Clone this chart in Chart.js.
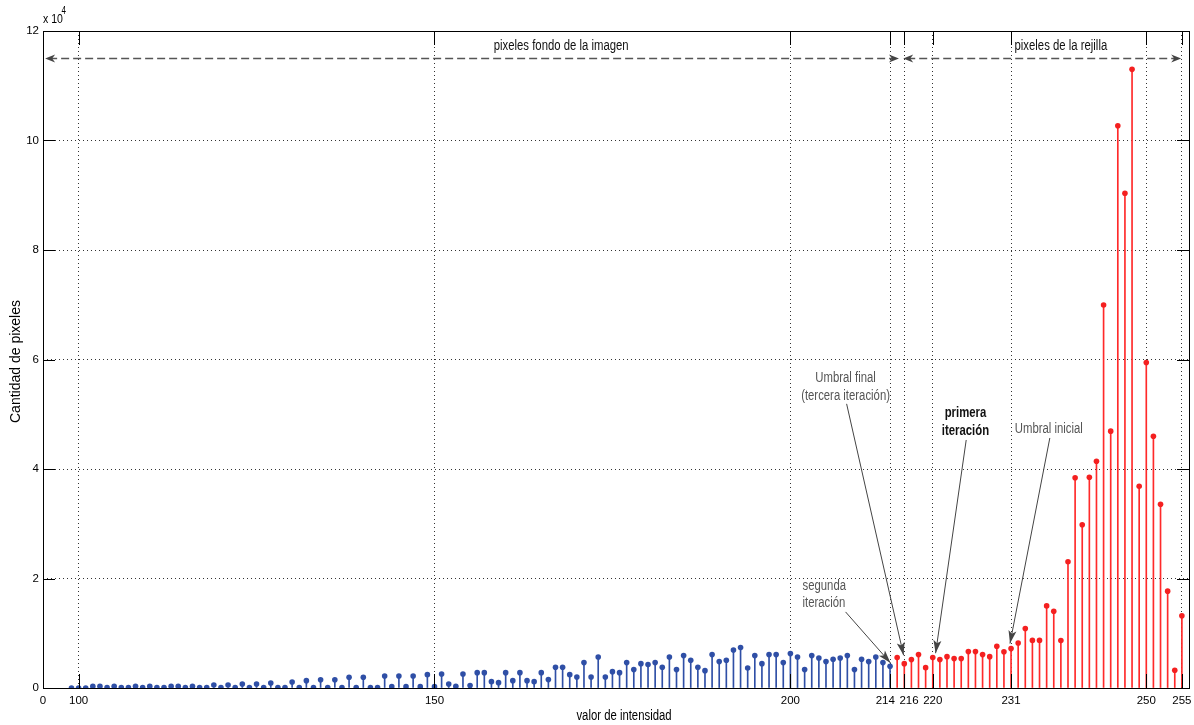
<!DOCTYPE html>
<html><head><meta charset="utf-8">
<script src="https://cdn.jsdelivr.net/npm/chart.js@4.4.1/dist/chart.umd.min.js"></script>
<style>html,body{margin:0;padding:0;background:#fff;}#wrap{width:1194px;height:725px;}</style>
</head><body><div id="wrap"><canvas id="c" width="1194" height="725"></canvas></div>
<script>
// ---- data ----
const bgIntensity = [];
for (let v = 99; v <= 214; v++) bgIntensity.push(v);
const bgCounts = [
  0, 0, 0, 300, 300, 100, 300, 100, 100, 300,      // 99-108
  100, 300, 100, 100, 300, 300, 100, 300, 100, 100, // 109-118
  550, 100, 550, 100, 730, 100, 730, 100, 900, 100, // 119-128
  100, 1100, 100, 1340, 100, 1520, 100, 1520, 100, 1950, // 129-138
  100, 1950, 100, 100, 2200, 250, 2200, 250, 2200, 250,  // 139-148
  2440, 250, 2560, 730, 300, 2560, 450, 2800, 2800, 1160, // 149-158
  980, 2800, 1340, 2800, 1340, 1160, 2800, 1530, 3780, 3780, // 159-168
  2440, 2010, 4640, 2010, 5670, 2010, 2990, 2800, 4640, 3360, // 169-178
  4450, 4270, 4640, 3780, 5670, 3360, 5920, 5060, 3780, 3170, // 179-188
  6100, 4820, 5060, 6950, 7380, 3660, 5920, 4450, 6100, 6100, // 189-198
  4640, 6280, 5670, 3360, 5920, 5490, 4820, 5250, 5490, 5920, // 199-208
  3360, 5250, 4820, 5670, 4640, 3970                          // 209-214
];
const gridIntensity = [];
for (let v = 215; v <= 255; v++) gridIntensity.push(v);
const gridCounts = [
  5550, 4450, 5190, 6100, 3720, 5550, 5190, 5730, 5370, 5370, // 215-224
  6650, 6650, 6100, 5730, 7630, 6620, 7200, 8230, 10860, 8690, // 225-234
  8690, 15000, 14030, 8660, 23060, 38400, 29830, 38490, 41420, 69950, // 235-244
  46910, 102700, 90360, 113000, 36840, 59450, 45990, 33550, 17690, 3230, // 245-254
  13180 // 255
];
const xTickValues = [95, 100, 150, 200, 214, 216, 220, 231, 250, 255];
const xTickLabels = ['0', '100', '150', '200', '214   ', '   216', '220', '231', '250', '255'];
const yTickValues = [0, 20000, 40000, 60000, 80000, 100000, 120000];

// ---- styling / annotations ----
const FONT = "'Liberation Sans', Arial, sans-serif";
const NARROW = 0.81;
const BLUE = '#2f4fa6';
const RED = '#ff2a2a';

const regionArrows = [
  {from: 95.3, to: 215.25, y: 115000, label: 'pixeles fondo de la imagen', lx: 167.8},
  {from: 215.85, to: 254.9, y: 115000, label: 'pixeles de la rejilla', lx: 238.0}
];
const notes = [
  {lines: ['Umbral final', '(tercera iteración)'], x: 207.75, y: [56650, 53360], align: 'center', color: '#555', bold: false,
   start: [207.9, 51900], tip: [215.9, 5980]},
  {lines: ['primera', 'iteración'], x: 224.6, y: [50250, 46960], align: 'center', color: '#111', bold: true,
   start: [224.7, 45300], tip: [220.4, 6350]},
  {lines: ['Umbral inicial'], x: 236.3, y: [47300], align: 'center', color: '#555', bold: false,
   start: [236.45, 45670], tip: [230.85, 8120]},
  {lines: ['segunda', 'iteración'], x: 201.7, y: [18660, 15490], align: 'left', color: '#555', bold: false,
   start: [207.75, 13900], tip: [214.07, 4570]}
];

function arrowHead(ctx, fx, fy, tx, ty, len, half, notch, color) {
  const a = Math.atan2(ty - fy, tx - fx);
  const cos = Math.cos(a), sin = Math.sin(a);
  const bx = tx - len * cos, by = ty - len * sin;
  const nx = tx - (len - notch) * cos, ny = ty - (len - notch) * sin;
  ctx.beginPath();
  ctx.moveTo(tx, ty);
  ctx.lineTo(bx - half * sin, by + half * cos);
  ctx.lineTo(nx, ny);
  ctx.lineTo(bx + half * sin, by - half * cos);
  ctx.closePath();
  ctx.fillStyle = color;
  ctx.fill();
}
function narrowText(ctx, text, x, y, size, align, bold, color) {
  ctx.save();
  ctx.font = (bold ? 'bold ' : '') + size + 'px ' + FONT;
  ctx.fillStyle = color;
  ctx.textAlign = align;
  ctx.textBaseline = 'middle';
  ctx.translate(x, y);
  ctx.scale(NARROW, 1);
  ctx.fillText(text, 0, 0);
  ctx.restore();
}

const decor = {
  id: 'decor',
  afterDatasetsDraw(chart) {
    const ctx = chart.ctx;
    const xs = chart.scales.x, ys = chart.scales.y;
    const ca = chart.chartArea;
    ctx.save();
    // box
    ctx.strokeStyle = '#000';
    ctx.lineWidth = 1;
    ctx.setLineDash([]);
    ctx.strokeRect(Math.round(ca.left) + 0.5, Math.round(ca.top) + 0.5,
      Math.round(ca.right - ca.left), Math.round(ca.bottom - ca.top));
    // inside ticks
    ctx.beginPath();
    xs.ticks.forEach(t => {
      const px = Math.round(xs.getPixelForValue(t.value)) + 0.5;
      ctx.moveTo(px, ca.bottom); ctx.lineTo(px, ca.bottom - 14);
      ctx.moveTo(px, ca.top); ctx.lineTo(px, ca.top + 14);
    });
    ys.ticks.forEach(t => {
      const py = Math.round(ys.getPixelForValue(t.value)) + 0.5;
      ctx.moveTo(ca.left, py); ctx.lineTo(ca.left + 12, py);
      ctx.moveTo(ca.right, py); ctx.lineTo(ca.right - 12, py);
    });
    ctx.stroke();
    // exponent
    narrowText(ctx, 'x 10', ca.left, 19, 13, 'left', false, '#000');
    narrowText(ctx, '4', ca.left + 18.5, 11, 10, 'left', false, '#000');
    // axis titles
    narrowText(ctx, 'valor de intensidad', 624, 716, 14, 'center', false, '#000');
    ctx.save();
    ctx.translate(16, (ca.top + ca.bottom) / 2 + 2);
    ctx.rotate(-Math.PI / 2);
    ctx.font = '14px ' + FONT;
    ctx.fillStyle = '#000';
    ctx.textAlign = 'center';
    ctx.textBaseline = 'middle';
    ctx.fillText('Cantidad de pixeles', 0, 0);
    ctx.restore();
    // region arrows
    regionArrows.forEach(r => {
      const x1 = xs.getPixelForValue(r.from), x2 = xs.getPixelForValue(r.to);
      const py = Math.round(ys.getPixelForValue(r.y)) + 0.5;
      ctx.strokeStyle = '#555';
      ctx.lineWidth = 1.5;
      ctx.setLineDash([8, 4]);
      ctx.beginPath(); ctx.moveTo(x1 + 4, py); ctx.lineTo(x2 - 4, py); ctx.stroke();
      ctx.setLineDash([]);
      arrowHead(ctx, x2 - 20, py, x2, py, 10, 4, 3, '#444');
      arrowHead(ctx, x1 + 20, py, x1, py, 10, 4, 3, '#444');
      narrowText(ctx, r.label, xs.getPixelForValue(r.lx), 46, 14, 'center', false, '#111');
    });
    // notes
    notes.forEach(n => {
      n.lines.forEach((l, i) => narrowText(ctx, l, xs.getPixelForValue(n.x), ys.getPixelForValue(n.y[i]),
        14, n.align, n.bold, n.color));
      const sx = xs.getPixelForValue(n.start[0]), sy = ys.getPixelForValue(n.start[1]);
      const tx = xs.getPixelForValue(n.tip[0]), ty = ys.getPixelForValue(n.tip[1]);
      ctx.strokeStyle = '#444';
      ctx.lineWidth = 1;
      ctx.beginPath(); ctx.moveTo(sx, sy); ctx.lineTo(tx, ty); ctx.stroke();
      arrowHead(ctx, sx, sy, tx, ty, 13, 4, 3, '#444');
    });
    ctx.restore();
  }
};

const toPts = (xsArr, ysArr) => xsArr.map((x, i) => ({x: x, y: ysArr[i]}));

new Chart(document.getElementById('c'), {
  type: 'bar',
  data: {
    datasets: [
      {type: 'bar', data: toPts(bgIntensity, bgCounts), backgroundColor: BLUE, barThickness: 1, grouped: false, order: 3},
      {type: 'bar', data: toPts(gridIntensity, gridCounts), backgroundColor: RED, barThickness: 1, grouped: false, order: 3},
      {type: 'line', data: toPts(bgIntensity, bgCounts), showLine: false, pointRadius: 2.8, pointBackgroundColor: BLUE,
       pointBorderWidth: 0, pointStyle: 'circle', order: 1},
      {type: 'line', data: toPts(gridIntensity, gridCounts), showLine: false, pointRadius: 2.8, pointBackgroundColor: '#f42020',
       pointBorderWidth: 0, pointStyle: 'circle', order: 1}
    ]
  },
  options: {
    responsive: false,
    devicePixelRatio: 1,
    animation: false,
    layout: {padding: {top: 31, right: 5, left: 0, bottom: 0}},
    plugins: {legend: {display: false}, tooltip: {enabled: false}},
    scales: {
      x: {
        type: 'linear', min: 95, max: 256, offset: false,
        afterBuildTicks: s => { s.ticks = xTickValues.map(v => ({value: v})); },
        afterFit: s => { s.height = 37; s.paddingLeft = 0; s.paddingRight = 0; },
        grid: {color: '#333', lineWidth: 1, drawTicks: false, offset: false},
        border: {display: false, dash: [1, 3]},
        ticks: {
          autoSkip: false, maxRotation: 0, minRotation: 0, padding: 6, color: '#000',
          font: {family: FONT, size: 11.5},
          callback: v => { const i = xTickValues.indexOf(v); return i >= 0 ? xTickLabels[i] : ''; }
        }
      },
      y: {
        type: 'linear', min: 0, max: 120000,
        afterBuildTicks: s => { s.ticks = yTickValues.map(v => ({value: v})); },
        afterFit: s => { s.width = 43; s.paddingTop = 0; s.paddingBottom = 0; },
        grid: {color: '#333', lineWidth: 1, drawTicks: false},
        border: {display: false, dash: [1, 3]},
        ticks: {
          padding: 4, color: '#000', font: {family: FONT, size: 11.5},
          callback: v => String(v / 10000)
        }
      }
    }
  },
  plugins: [decor]
});
</script></body></html>
